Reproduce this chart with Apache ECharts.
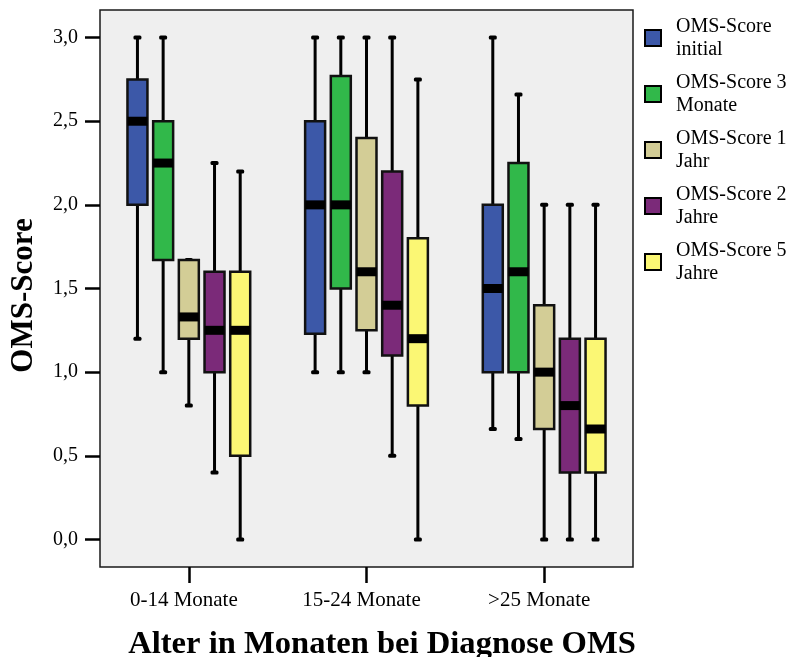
<!DOCTYPE html>
<html>
<head>
<meta charset="utf-8">
<script src="https://cdn.jsdelivr.net/npm/echarts@6/dist/echarts.min.js"></script>
<style>
html,body{margin:0;padding:0;background:#fff;}
#chart{width:795px;height:657px;}
</style>
</head>
<body>
<div id="chart"></div>
<script>
// ---- data ----
const categories = ['0-14 Monate', '15-24 Monate', '>25 Monate'];
const seriesNames = ['OMS-Score\ninitial', 'OMS-Score 3\nMonate', 'OMS-Score 1\nJahr', 'OMS-Score 2\nJahre', 'OMS-Score 5\nJahre'];
// each row: [min, Q1, median, Q3, max] per category
const scoreInitial = [[1.2, 2.0, 2.5, 2.75, 3.0], [1.0, 1.23, 2.0, 2.5, 3.0], [0.66, 1.0, 1.5, 2.0, 3.0]];
const score3Monate = [[1.0, 1.67, 2.25, 2.5, 3.0], [1.0, 1.5, 2.0, 2.77, 3.0], [0.6, 1.0, 1.6, 2.25, 2.66]];
const score1Jahr   = [[0.8, 1.2, 1.33, 1.67, 1.67], [1.0, 1.25, 1.6, 2.4, 3.0], [0.0, 0.66, 1.0, 1.4, 2.0]];
const score2Jahre  = [[0.4, 1.0, 1.25, 1.6, 2.25], [0.5, 1.1, 1.4, 2.2, 3.0], [0.0, 0.4, 0.8, 1.2, 2.0]];
const score5Jahre  = [[0.0, 0.5, 1.25, 1.6, 2.2], [0.0, 0.8, 1.2, 1.8, 2.75], [0.0, 0.4, 0.66, 1.2, 2.0]];
const yTicks = [0, 0.5, 1.0, 1.5, 2.0, 2.5, 3.0];

const allSeries = [scoreInitial, score3Monate, score1Jahr, score2Jahre, score5Jahre];
const colors = ['#3c58a8', '#31b84a', '#d3cd96', '#7b2a79', '#fbf774'];

const FONT = 'Liberation Serif';
const SLOT = 0.1446;   // distance between box centres, as fraction of category band
const BOXW = 0.1125;   // box width, fraction of band

function makeRender(si) {
  return function (params, api) {
    const cat = api.value(0);
    const band = api.size([1, 0])[0];
    const cx = api.coord([cat, 0])[0] + (si - 2) * band * SLOT;
    const hw = band * BOXW / 2;
    const yMin = api.coord([cat, api.value(1)])[1];
    const yQ1 = api.coord([cat, api.value(2)])[1];
    const yMed = api.coord([cat, api.value(3)])[1];
    const yQ3 = api.coord([cat, api.value(4)])[1];
    const yMax = api.coord([cat, api.value(5)])[1];
    const color = api.visual('color');
    return {
      type: 'group',
      children: [
        {type: 'line', shape: {x1: cx, y1: yMin, x2: cx, y2: yMax}, style: {stroke: '#000', lineWidth: 3}},
        {type: 'rect', shape: {x: cx - 4, y: yMax - 2, width: 8, height: 4, r: 1.5}, style: {fill: '#000'}},
        {type: 'rect', shape: {x: cx - 4, y: yMin - 2, width: 8, height: 4, r: 1.5}, style: {fill: '#000'}},
        {type: 'rect', shape: {x: cx - hw, y: yQ3, width: hw * 2, height: yQ1 - yQ3},
          style: {fill: color, stroke: '#111', lineWidth: 2.5}},
        {type: 'rect', shape: {x: cx - hw, y: yMed - 4.5, width: hw * 2, height: 9}, style: {fill: '#000'}}
      ]
    };
  };
}

const series = allSeries.map(function (arr, si) {
  return {
    type: 'custom',
    name: seriesNames[si],
    itemStyle: {color: colors[si]},
    encode: {x: 0, y: [1, 2, 3, 4, 5]},
    data: arr.map(function (row, ci) { return [ci].concat(row); }),
    renderItem: makeRender(si),
    clip: false
  };
});

const chart = echarts.init(document.getElementById('chart'), null, {renderer: 'canvas'});
chart.setOption({
  animation: false,
  backgroundColor: '#ffffff',
  grid: {left: 100, top: 10, right: 162, bottom: 90, show: true, backgroundColor: '#efefef', borderColor: '#1a1a1a', borderWidth: 1.5},
  xAxis: {
    type: 'category',
    data: categories,
    axisLine: {show: false, onZero: false},
    axisTick: {show: true, alignWithLabel: true, length: 16, lineStyle: {color: '#000', width: 2.5}},
    axisLabel: {fontFamily: FONT, fontSize: 21, color: '#000', margin: 23, padding: [0, 10, 0, 0]},
    splitLine: {show: false}
  },
  yAxis: {
    type: 'value',
    min: -0.165,
    max: 3.165,
    name: 'OMS-Score',
    nameLocation: 'middle',
    nameGap: 61,
    nameTextStyle: {fontFamily: FONT, fontSize: 31, fontWeight: 'bold', color: '#000', padding: [0, 14, 0, 0]},
    axisLine: {show: false},
    axisTick: {show: true, length: 15, customValues: yTicks, lineStyle: {color: '#000', width: 2.5}},
    axisLabel: {fontFamily: FONT, fontSize: 20, color: '#000', margin: 22, customValues: yTicks,
      formatter: function (v) { return v.toFixed(1).replace('.', ','); }},
    splitLine: {show: false}
  },
  legend: {
    orient: 'vertical',
    left: 644,
    top: 15,
    padding: 0,
    itemGap: 10,
    itemWidth: 16,
    itemHeight: 16,
    icon: 'rect',
    itemStyle: {borderColor: '#000', borderWidth: 2},
    textStyle: {fontFamily: FONT, fontSize: 20, lineHeight: 23, color: '#000', padding: [0, 0, 0, 10]},
    data: seriesNames
  },
  graphic: [{
    type: 'text',
    x: 382,
    y: 645,
    style: {text: 'Alter in Monaten bei Diagnose OMS', fontFamily: FONT, fontSize: 32.6, fontWeight: 'bold', fill: '#000', textAlign: 'center', textVerticalAlign: 'middle'}
  }],
  series: series
});
</script>
</body>
</html>
